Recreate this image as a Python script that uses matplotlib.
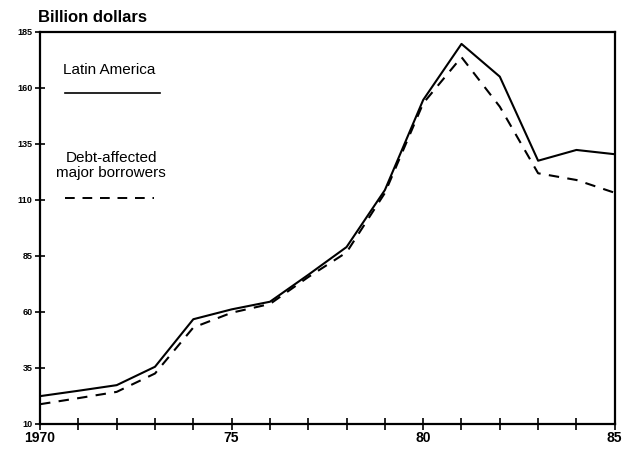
import numpy as np
import matplotlib.pyplot as plt

# Billions of dollars, 1970-85
years = [1970, 1971, 1972, 1973, 1974, 1975, 1976, 1977, 1978, 1979, 1980, 1981, 1982, 1983, 1984, 1985]
latin_america = [22.4, 24.8, 27.3, 35.5, 56.7, 61.1, 64.5, 76.5, 88.9, 114.3, 154.5, 179.5, 164.9, 127.4, 132.2, 130.3]
debt_affected = [18.8, 21.5, 24.3, 32.5, 53.0, 59.6, 63.5, 75.5, 86.5, 113.0, 153.0, 173.6, 151.5, 121.8, 118.8, 113.1]

y_ticks = [10, 35, 60, 85, 110, 135, 160, 185]
x_ticks = [1970, 1975, 1980, 1985]
x_labels = ['1970', '75', '80', '85']

plt.rcParams['font.family'] = ['Liberation Sans', 'DejaVu Sans']

fig = plt.figure(figsize=(6.26, 4.51), dpi=100)
ax = fig.add_axes([0.064, 0.060, 0.918, 0.870])

ax.plot(years, latin_america, color='black', lw=1.5)
ax.plot(years, debt_affected, color='black', lw=1.5, ls=(0, (5, 4)))

ax.set_xlim(1970, 1985)
ax.set_ylim(10, 185)

ax.set_yticks(y_ticks)
ax.set_yticklabels([str(v) for v in y_ticks], fontsize=6.5, fontweight='bold')
ax.set_xticks(x_ticks)
ax.set_xticklabels(x_labels, fontsize=10, fontweight='bold')
ax.set_xticks(range(1970, 1986), minor=True)

ax.tick_params(axis='both', which='both', direction='inout', width=1.2, color='black')
ax.tick_params(axis='y', length=7, pad=2)
ax.tick_params(axis='x', which='major', length=8, pad=1)
ax.tick_params(axis='x', which='minor', length=8)

for side in ['left', 'bottom', 'top', 'right']:
    ax.spines[side].set_linewidth(1.6)

# in-plot key
ax.text(0.040, 0.903, 'Latin America', transform=ax.transAxes, fontsize=11,
        ha='left', va='center')
ax.plot([0.043, 0.209], [0.844, 0.844], transform=ax.transAxes, color='black', lw=1.2)
ax.text(0.124, 0.658, 'Debt-affected\nmajor borrowers', transform=ax.transAxes,
        fontsize=11, ha='center', va='center', linespacing=1.05)
ax.plot([0.043, 0.198], [0.577, 0.577], transform=ax.transAxes, color='black', lw=1.4,
        ls=(0, (5, 4)))

fig.text(0.061, 0.962, 'Billion dollars', fontsize=12, fontweight='bold', ha='left', va='center')

fig.savefig('out.png', dpi=100)
